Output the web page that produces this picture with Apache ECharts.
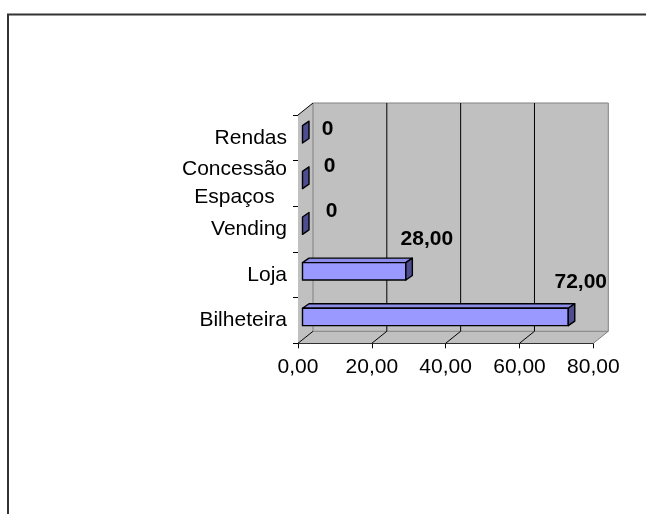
<!DOCTYPE html>
<html>
<head>
<meta charset="utf-8">
<script src="https://cdn.jsdelivr.net/npm/echarts@6/dist/echarts.min.js"></script>
<style>
html,body{margin:0;padding:0;background:#fff;}
#c{width:646px;height:514px;}
</style>
</head>
<body>
<div id="c"></div>
<script>
// ---- data ----
const categories = ['Bilheteira', 'Loja', 'Vending', 'Concessão\nEspaços', 'Rendas'];
const values = [72, 28, 0, 0, 0];
const xTicks = [0, 20, 40, 60, 80];

// ---- styling constants ----
const FONT = 'Liberation Sans, Arial, sans-serif';
const WALL = [15, -12];        // depth of the walls (px)
const BAR_FRONT = [4.5, -3.5]; // bar front face offset inside depth
const BAR_DEPTH = [6.5, -4.5]; // bar depth
const LABEL_DX = [17, 25.5, 33.5, 31.5, 29.5];
const LABEL_DY = [-38, -35.5, -18, -17, -9];

function fmt(v) { return v.toFixed(2).replace('.', ','); }
function valLabel(v) { return v === 0 ? '0' : fmt(v); }

const chart = echarts.init(document.getElementById('c'), null, {renderer: 'canvas'});

function renderFrame(params, api) {
  const cs = params.coordSys;
  const x0 = cs.x, x1 = cs.x + cs.width, yT = cs.y, yB = cs.y + cs.height;
  const dx = WALL[0], dy = WALL[1];
  const wallStyle = {fill: '#C0C0C0', stroke: null};
  const children = [];
  children.push({type: 'polygon', shape: {points: [[x0, yT], [x0 + dx, yT + dy], [x0 + dx, yB + dy], [x0, yB]]}, style: wallStyle});
  children.push({type: 'polygon', shape: {points: [[x0, yB], [x1, yB], [x1 + dx, yB + dy], [x0 + dx, yB + dy]]}, style: wallStyle});
  children.push({type: 'rect', shape: {x: x0 + dx, y: yT + dy, width: x1 - x0, height: yB - yT}, style: {fill: '#C0C0C0', stroke: '#808080', lineWidth: 1}});
  xTicks.forEach(function (t) {
    const xv = api.coord([t, 0])[0];
    if (t > xTicks[0] && t < xTicks[xTicks.length - 1]) {
      children.push({type: 'line', shape: {x1: xv + dx, y1: yT + dy, x2: xv + dx, y2: yB + dy}, style: {stroke: '#000', lineWidth: 1}});
    }
    const last = t === xTicks[xTicks.length - 1];
    children.push({type: 'line', shape: {x1: xv, y1: yB, x2: xv + dx, y2: yB + dy}, style: {stroke: last ? '#808080' : '#000', lineWidth: 1}});
  });
  children.push({type: 'line', shape: {x1: x0, y1: yT, x2: x0 + dx, y2: yT + dy}, style: {stroke: '#000', lineWidth: 1}});
  return {type: 'group', children: children};
}

function renderBar(params, api) {
  const v = api.value(0), c = api.value(1);
  const p0 = api.coord([0, c]), p1 = api.coord([v, c]);
  const band = api.size([0, 1])[1];
  const h = band * 0.38;
  const xa = p0[0] + BAR_FRONT[0], xb = p1[0] + BAR_FRONT[0];
  const yt = p0[1] + BAR_FRONT[1] - h / 2, yb = yt + h;
  const bx = BAR_DEPTH[0], by = BAR_DEPTH[1];
  const line = {stroke: '#000', lineWidth: 1.4, lineJoin: 'round'};
  const children = [];
  if (xb - xa > 0.5) {
    children.push({type: 'polygon', shape: {points: [[xa, yt], [xb, yt], [xb + bx, yt + by], [xa + bx, yt + by]]}, style: Object.assign({fill: '#8C8CEB'}, line)});
    children.push({type: 'rect', shape: {x: xa, y: yt, width: xb - xa, height: h}, style: Object.assign({fill: '#9999FF'}, line)});
  }
  children.push({type: 'polygon', shape: {points: [[xb, yt], [xb + bx, yt + by], [xb + bx, yb + by], [xb, yb]]}, style: Object.assign({fill: '#4D4D8F'}, line)});
  children.push({type: 'text', x: p1[0] + LABEL_DX[c], y: p0[1] + LABEL_DY[c],
    style: {text: valLabel(v), font: 'bold 21px ' + FONT, fill: '#000', align: 'center', verticalAlign: 'middle'}});
  return {type: 'group', children: children};
}

const option = {
  animation: false,
  backgroundColor: '#fff',
  grid: {left: 298, right: 52.7, top: 115, bottom: 170.7, containLabel: false},
  xAxis: {
    type: 'value', min: 0, max: 80, interval: 20,
    axisLine: {show: true, lineStyle: {color: '#000', width: 1}},
    axisTick: {show: true, length: 5, lineStyle: {color: '#000'}},
    splitLine: {show: false},
    axisLabel: {formatter: fmt, color: '#000', fontSize: 21, fontFamily: FONT, margin: 13}
  },
  yAxis: {
    type: 'category', data: categories,
    axisLine: {show: true, lineStyle: {color: '#000', width: 1}},
    axisTick: {show: true, length: 5, lineStyle: {color: '#000'}},
    splitLine: {show: false},
    axisLabel: {
      color: '#000', fontSize: 21, fontFamily: FONT, margin: 11,
      formatter: function (v) {
        return v.indexOf('\n') >= 0 ? v.split('\n').map(function (s) { return '{m|' + s + '}'; }).join('\n') : v;
      },
      rich: {m: {width: 105, align: 'center', fontSize: 21, fontFamily: FONT, lineHeight: 28, color: '#000'}}
    }
  },
  graphic: [{type: 'rect', shape: {x: 8, y: 14.5, width: 700, height: 600}, style: {fill: null, stroke: '#333', lineWidth: 2}, z: 100}],
  series: [
    {type: 'custom', renderItem: renderFrame, data: [[0, 0]], z: 1, silent: true, clip: false},
    {type: 'custom', renderItem: renderBar, data: values.map(function (v, i) { return [v, i]; }), z: 3, clip: false}
  ]
};
chart.setOption(option);
</script>
</body>
</html>
